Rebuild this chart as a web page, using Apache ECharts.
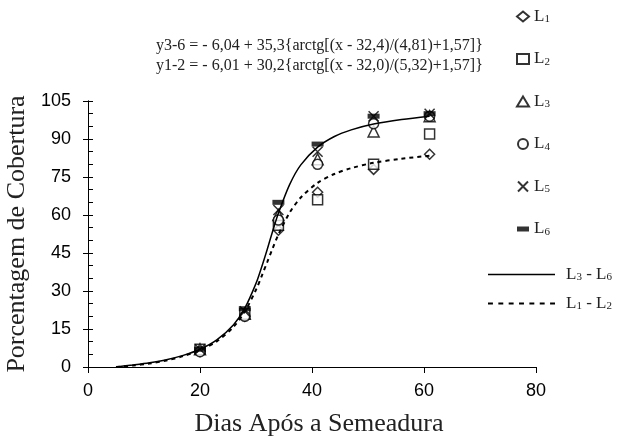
<!DOCTYPE html>
<html><head><meta charset="utf-8">
<script src="https://cdn.jsdelivr.net/npm/echarts@6/dist/echarts.min.js"></script>
<style>html,body{margin:0;padding:0;background:#fff}#c{width:636px;height:437px}</style>
</head><body><div id="c"></div>
<script>
// ---- data ----
const days = [20, 28, 34, 41, 51, 61];
const L1 = [6, 20, 54, 69, 78, 84];
const L2 = [7, 21, 56, 66, 80, 92];
const L3 = [7, 21, 60, 82, 93, 99];
const L4 = [6, 20, 58, 80, 96, 99];
const L5 = [7, 22, 62, 85, 99, 100];
const L6 = [7, 23, 65, 88, 99, 100];
const curveDays = [5, 8, 11, 14, 17, 20, 23, 26, 28, 30, 31, 32, 33, 34, 36, 38, 41, 44, 47, 51, 56, 61];
const fitL3L6 = [0, 0.8, 1.7, 2.9, 4.6, 7.0, 10.7, 16.7, 23.2, 33.0, 39.4, 46.4, 53.8, 60.7, 72.0, 79.8, 86.8, 91.0, 93.6, 95.9, 97.7, 99.0];
const fitL1L2 = [0, 0.6, 1.4, 2.6, 4.3, 6.6, 10.1, 15.9, 21.9, 30.5, 35.8, 41.4, 47.0, 52.3, 60.9, 66.9, 72.7, 76.2, 78.5, 80.6, 82.2, 83.4];
const xTickLabels = [0, 20, 40, 60, 80];
const yTickLabels = [0, 15, 30, 45, 60, 75, 90, 105];
const equations = [
  'y3-6 = - 6,04 + 35,3{arctg[(x - 32,4)/(4,81)+1,57]}',
  'y1-2 = - 6,01 + 30,2{arctg[(x - 32,0)/(5,32)+1,57]}'
];
const xTitle = 'Dias Após a Semeadura';
const yTitle = 'Porcentagem de Cobertura';

// ---- chart ----
const SERIF = '"Liberation Serif","Times New Roman",serif';
const SANS = '"Liberation Sans",Arial,sans-serif';
const pairs = (xs, ys) => xs.map((x, i) => [x, ys[i]]);
const markerSeries = [
  {name: 'L1', data: L1, symbol: 'diamond', size: 10},
  {name: 'L2', data: L2, symbol: 'rect', size: 10},
  {name: 'L3', data: L3, symbol: 'triangle', size: 11},
  {name: 'L4', data: L4, symbol: 'circle', size: 10},
  {name: 'L5', data: L5, symbol: 'path://M0,0L10,10M0,10L10,0', size: 10},
  {name: 'L6', data: L6, symbol: 'rect', size: [12, 5]}
];
const sub = (name) => name.replace(/L(\d)/g, '{b|L}{s|$1}').replace(/ - /g, '{b| - }');
const rich = {
  b: {fontFamily: SERIF, fontSize: 17, color: '#222'},
  s: {fontFamily: SERIF, fontSize: 11, color: '#222', verticalAlign: 'bottom', padding: [6, 0, 0, 0]}
};
const yMin = yTickLabels[0], yMax = yTickLabels[yTickLabels.length - 1];
const yStep = yTickLabels[1] - yTickLabels[0];
const xMin = xTickLabels[0], xMax = xTickLabels[xTickLabels.length - 1];
const xStep = xTickLabels[1] - xTickLabels[0];

// legend icons for the fitted curves (solid and dashed strokes)
const solidIcon = 'path://M0,0h67v1.6h-67z';
let dashPath = 'path://';
for (let p = 0; p < 67; p += 10.5) dashPath += 'M' + p + ',0h5v2h-5z';

const series = markerSeries.map(m => ({
  name: m.name, type: 'scatter', data: pairs(days, m.data),
  symbol: m.symbol, symbolSize: m.size, z: 3,
  itemStyle: m.name === 'L6' ? {color: '#000', borderColor: '#000', borderWidth: 0}
    : {color: m.name === 'L5' ? 'transparent' : '#fff', borderColor: '#000', borderWidth: 1.5}
}));
series.push({
  name: 'L3 - L6', type: 'line', data: pairs(curveDays, fitL3L6), smooth: 0.3,
  symbol: 'none', z: 4, lineStyle: {color: '#000', width: 1.5, type: 'solid'}, itemStyle: {color: '#000'}
});
series.push({
  name: 'L1 - L2', type: 'line', data: pairs(curveDays, fitL1L2), smooth: 0.3,
  symbol: 'none', z: 4, lineStyle: {color: '#000', width: 2, type: [4, 4]}, itemStyle: {color: '#000'}
});

const chart = echarts.init(document.getElementById('c'), null, {renderer: 'canvas'});
chart.setOption({
  animation: false,
  backgroundColor: '#fff',
  title: {
    text: equations.join('\n'), left: 151, top: 31,
    textStyle: {fontFamily: SERIF, fontSize: 16, fontWeight: 'normal', color: '#222', lineHeight: 20}
  },
  grid: {left: 88, right: 100, top: 101, bottom: 70, containLabel: false, outerBoundsMode: 'none'},
  legend: [{
    data: markerSeries.map(m => m.name === 'L6' ? {name: 'L6', icon: 'path://M0,0h12v5h-12z'} : {name: m.name}),
    orient: 'vertical', left: 511, top: 3, itemWidth: 12, itemHeight: 10, itemGap: 25.5,
    selectedMode: false, symbolKeepAspect: true,
    formatter: sub, textStyle: {rich: rich, padding: [0, 0, 0, 0]}
  }, {
    data: [{name: 'L3 - L6', icon: solidIcon}, {name: 'L1 - L2', icon: dashPath}],
    orient: 'vertical', left: 483, top: 261, itemWidth: 67, itemHeight: 10, itemGap: 12,
    selectedMode: false, symbolKeepAspect: true,
    formatter: sub, textStyle: {rich: rich, padding: [0, 0, 0, 6]}
  }],
  xAxis: {
    type: 'value', min: xMin, max: xMax, interval: xStep,
    name: xTitle, nameLocation: 'middle', nameGap: 44,
    nameTextStyle: {fontFamily: SERIF, fontSize: 26, color: '#222', padding: [0, 0, 0, 14]},
    axisLine: {lineStyle: {color: '#000', width: 1}},
    axisTick: {show: true, inside: false, length: 6, lineStyle: {color: '#000'}},
    axisLabel: {fontFamily: SANS, fontSize: 18, color: '#000', margin: 15},
    splitLine: {show: false}
  },
  yAxis: [{
    type: 'value', min: yMin, max: yMax, interval: yStep,
    name: yTitle, nameLocation: 'middle', nameGap: 58,
    nameTextStyle: {fontFamily: SERIF, fontSize: 26, color: '#222'},
    axisLine: {show: true, lineStyle: {color: '#000', width: 1}},
    axisTick: {show: true, inside: false, length: 5, lineStyle: {color: '#000'}},
    axisLabel: {fontFamily: SANS, fontSize: 18, color: '#000', margin: 17},
    splitLine: {show: false}
  }, {
    type: 'value', min: yMin, max: yMax, interval: yStep, position: 'left', offset: 0,
    axisLine: {show: true, lineStyle: {color: '#000', width: 1}},
    axisTick: {show: true, inside: true, length: 5, lineStyle: {color: '#000'}},
    minorTick: {show: true, splitNumber: 3, length: 5, lineStyle: {color: '#000'}},
    axisLabel: {show: false},
    splitLine: {show: false}
  }],
  series: series
});
</script>
</body></html>
